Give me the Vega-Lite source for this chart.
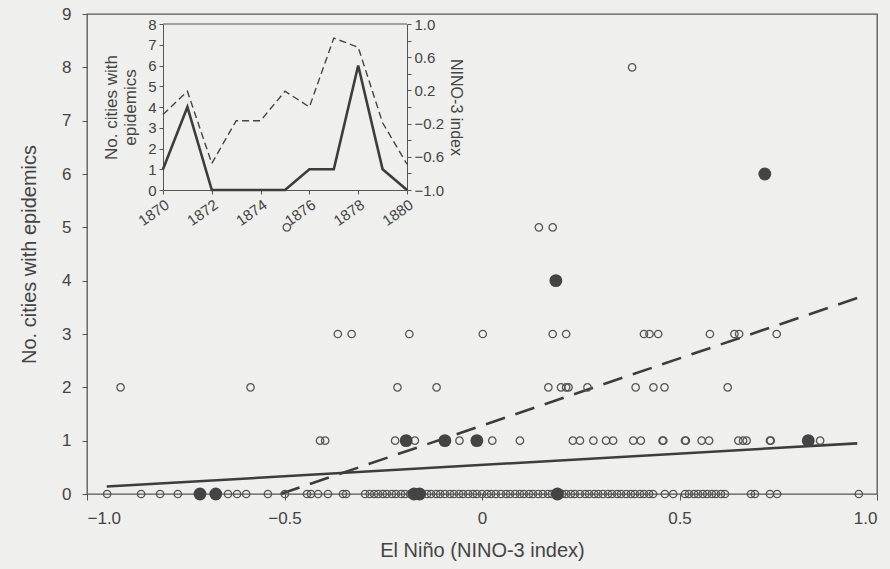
{
  "$schema": "https://vega.github.io/schema/vega-lite/v6.json",
  "width": 790,
  "height": 480,
  "autosize": {"type": "none"},
  "padding": {"left": 87, "top": 14, "right": 13, "bottom": 75},
  "background": "#efefed",
  "config": {
    "font": "Liberation Sans",
    "view": {"stroke": "#555", "strokeWidth": 1.3},
    "axis": {"domainColor": "#555", "tickColor": "#555", "labelColor": "#444", "titleColor": "#444", "grid": false, "titleFontWeight": "normal"}
  },
  "datasets": {
    "pts": [
      {"x": -0.949, "n": 0, "t": "o"}, {"x": -0.863, "n": 0, "t": "o"}, {"x": -0.815, "n": 0, "t": "o"}, {"x": -0.770, "n": 0, "t": "o"},
      {"x": -0.643, "n": 0, "t": "o"}, {"x": -0.620, "n": 0, "t": "o"}, {"x": -0.597, "n": 0, "t": "o"}, {"x": -0.542, "n": 0, "t": "o"},
      {"x": -0.499, "n": 0, "t": "o"}, {"x": -0.443, "n": 0, "t": "o"}, {"x": -0.433, "n": 0, "t": "o"}, {"x": -0.415, "n": 0, "t": "o"},
      {"x": -0.390, "n": 0, "t": "o"}, {"x": -0.352, "n": 0, "t": "o"}, {"x": -0.344, "n": 0, "t": "o"},
      {"x": -0.296, "n": 0, "t": "o"}, {"x": -0.284, "n": 0, "t": "o"}, {"x": -0.273, "n": 0, "t": "o"}, {"x": -0.263, "n": 0, "t": "o"},
      {"x": -0.251, "n": 0, "t": "o"}, {"x": -0.241, "n": 0, "t": "o"}, {"x": -0.228, "n": 0, "t": "o"}, {"x": -0.218, "n": 0, "t": "o"},
      {"x": -0.205, "n": 0, "t": "o"}, {"x": -0.195, "n": 0, "t": "o"}, {"x": -0.182, "n": 0, "t": "o"}, {"x": -0.152, "n": 0, "t": "o"},
      {"x": -0.139, "n": 0, "t": "o"}, {"x": -0.129, "n": 0, "t": "o"}, {"x": -0.116, "n": 0, "t": "o"}, {"x": -0.106, "n": 0, "t": "o"},
      {"x": -0.094, "n": 0, "t": "o"}, {"x": -0.081, "n": 0, "t": "o"}, {"x": -0.071, "n": 0, "t": "o"}, {"x": -0.058, "n": 0, "t": "o"},
      {"x": -0.048, "n": 0, "t": "o"}, {"x": -0.035, "n": 0, "t": "o"}, {"x": -0.023, "n": 0, "t": "o"}, {"x": -0.013, "n": 0, "t": "o"},
      {"x": 0.0, "n": 0, "t": "o"}, {"x": 0.013, "n": 0, "t": "o"}, {"x": 0.023, "n": 0, "t": "o"}, {"x": 0.035, "n": 0, "t": "o"},
      {"x": 0.048, "n": 0, "t": "o"}, {"x": 0.061, "n": 0, "t": "o"}, {"x": 0.071, "n": 0, "t": "o"}, {"x": 0.084, "n": 0, "t": "o"},
      {"x": 0.096, "n": 0, "t": "o"}, {"x": 0.106, "n": 0, "t": "o"}, {"x": 0.119, "n": 0, "t": "o"}, {"x": 0.129, "n": 0, "t": "o"},
      {"x": 0.142, "n": 0, "t": "o"}, {"x": 0.154, "n": 0, "t": "o"}, {"x": 0.167, "n": 0, "t": "o"}, {"x": 0.177, "n": 0, "t": "o"},
      {"x": 0.203, "n": 0, "t": "o"}, {"x": 0.213, "n": 0, "t": "o"}, {"x": 0.225, "n": 0, "t": "o"}, {"x": 0.235, "n": 0, "t": "o"},
      {"x": 0.248, "n": 0, "t": "o"}, {"x": 0.261, "n": 0, "t": "o"}, {"x": 0.271, "n": 0, "t": "o"}, {"x": 0.284, "n": 0, "t": "o"},
      {"x": 0.294, "n": 0, "t": "o"}, {"x": 0.306, "n": 0, "t": "o"}, {"x": 0.319, "n": 0, "t": "o"}, {"x": 0.329, "n": 0, "t": "o"},
      {"x": 0.342, "n": 0, "t": "o"}, {"x": 0.352, "n": 0, "t": "o"}, {"x": 0.365, "n": 0, "t": "o"}, {"x": 0.377, "n": 0, "t": "o"},
      {"x": 0.387, "n": 0, "t": "o"}, {"x": 0.400, "n": 0, "t": "o"}, {"x": 0.410, "n": 0, "t": "o"}, {"x": 0.423, "n": 0, "t": "o"},
      {"x": 0.433, "n": 0, "t": "o"}, {"x": 0.463, "n": 0, "t": "o"}, {"x": 0.484, "n": 0, "t": "o"}, {"x": 0.514, "n": 0, "t": "o"},
      {"x": 0.524, "n": 0, "t": "o"}, {"x": 0.537, "n": 0, "t": "o"}, {"x": 0.547, "n": 0, "t": "o"}, {"x": 0.559, "n": 0, "t": "o"},
      {"x": 0.570, "n": 0, "t": "o"}, {"x": 0.582, "n": 0, "t": "o"}, {"x": 0.592, "n": 0, "t": "o"}, {"x": 0.605, "n": 0, "t": "o"},
      {"x": 0.615, "n": 0, "t": "o"}, {"x": 0.681, "n": 0, "t": "o"}, {"x": 0.691, "n": 0, "t": "o"}, {"x": 0.729, "n": 0, "t": "o"},
      {"x": 0.747, "n": 0, "t": "o"}, {"x": 0.954, "n": 0, "t": "o"},
      {"x": -0.410, "n": 1, "t": "o"}, {"x": -0.397, "n": 1, "t": "o"}, {"x": -0.220, "n": 1, "t": "o"}, {"x": -0.170, "n": 1, "t": "o"},
      {"x": -0.057, "n": 1, "t": "o"}, {"x": 0.026, "n": 1, "t": "o"}, {"x": 0.096, "n": 1, "t": "o"}, {"x": 0.230, "n": 1, "t": "o"},
      {"x": 0.248, "n": 1, "t": "o"}, {"x": 0.282, "n": 1, "t": "o"}, {"x": 0.314, "n": 1, "t": "o"}, {"x": 0.332, "n": 1, "t": "o"},
      {"x": 0.383, "n": 1, "t": "o"}, {"x": 0.402, "n": 1, "t": "o"}, {"x": 0.457, "n": 1, "t": "o"}, {"x": 0.459, "n": 1, "t": "o"},
      {"x": 0.514, "n": 1, "t": "o"}, {"x": 0.516, "n": 1, "t": "o"}, {"x": 0.556, "n": 1, "t": "o"}, {"x": 0.575, "n": 1, "t": "o"},
      {"x": 0.649, "n": 1, "t": "o"}, {"x": 0.661, "n": 1, "t": "o"}, {"x": 0.670, "n": 1, "t": "o"}, {"x": 0.729, "n": 1, "t": "o"},
      {"x": 0.731, "n": 1, "t": "o"}, {"x": 0.856, "n": 1, "t": "o"},
      {"x": -0.915, "n": 2, "t": "o"}, {"x": -0.586, "n": 2, "t": "o"}, {"x": -0.214, "n": 2, "t": "o"}, {"x": -0.115, "n": 2, "t": "o"},
      {"x": 0.168, "n": 2, "t": "o"}, {"x": 0.200, "n": 2, "t": "o"}, {"x": 0.213, "n": 2, "t": "o"}, {"x": 0.219, "n": 2, "t": "o"},
      {"x": 0.267, "n": 2, "t": "o"}, {"x": 0.389, "n": 2, "t": "o"}, {"x": 0.434, "n": 2, "t": "o"}, {"x": 0.462, "n": 2, "t": "o"},
      {"x": 0.622, "n": 2, "t": "o"},
      {"x": -0.365, "n": 3, "t": "o"}, {"x": -0.330, "n": 3, "t": "o"}, {"x": -0.184, "n": 3, "t": "o"}, {"x": 0.002, "n": 3, "t": "o"},
      {"x": 0.179, "n": 3, "t": "o"}, {"x": 0.213, "n": 3, "t": "o"}, {"x": 0.410, "n": 3, "t": "o"}, {"x": 0.424, "n": 3, "t": "o"},
      {"x": 0.446, "n": 3, "t": "o"}, {"x": 0.577, "n": 3, "t": "o"}, {"x": 0.639, "n": 3, "t": "o"}, {"x": 0.651, "n": 3, "t": "o"},
      {"x": 0.746, "n": 3, "t": "o"},
      {"x": -0.494, "n": 5, "t": "o"}, {"x": 0.144, "n": 5, "t": "o"}, {"x": 0.179, "n": 5, "t": "o"},
      {"x": 0.380, "n": 8, "t": "o"},
      {"x": -0.714, "n": 0, "t": "f"}, {"x": -0.674, "n": 0, "t": "f"}, {"x": -0.172, "n": 0, "t": "f"}, {"x": -0.158, "n": 0, "t": "f"},
      {"x": 0.191, "n": 0, "t": "f"}, {"x": -0.192, "n": 1, "t": "f"}, {"x": -0.094, "n": 1, "t": "f"}, {"x": -0.013, "n": 1, "t": "f"},
      {"x": 0.826, "n": 1, "t": "f"}, {"x": 0.187, "n": 4, "t": "f"}, {"x": 0.716, "n": 6, "t": "f"}
    ],
    "inset": [
      {"year": 1870, "cities": 1, "nino": -0.09},
      {"year": 1871, "cities": 4, "nino": 0.19},
      {"year": 1872, "cities": 0, "nino": -0.68},
      {"year": 1873, "cities": 0, "nino": -0.165},
      {"year": 1874, "cities": 0, "nino": -0.165},
      {"year": 1875, "cities": 0, "nino": 0.19},
      {"year": 1876, "cities": 1, "nino": 0.0},
      {"year": 1877, "cities": 1, "nino": 0.83},
      {"year": 1878, "cities": 6, "nino": 0.72},
      {"year": 1879, "cities": 1, "nino": -0.19},
      {"year": 1880, "cities": 0, "nino": -0.69}
    ],
    "fitSolid": [{"x": -0.95, "n": 0.14}, {"x": 0.95, "n": 0.95}],
    "fitDashed": [{"x": -0.51, "n": 0.0}, {"x": 0.952, "n": 3.68}]
  },
  "layer": [
    {
      "layer": [
        {
          "data": {"name": "fitSolid"},
          "mark": {"type": "line", "color": "#3d3d3d", "strokeWidth": 2.6},
          "encoding": {
            "x": {"field": "x", "type": "quantitative"},
            "y": {"field": "n", "type": "quantitative"}
          }
        },
        {
          "data": {"name": "fitDashed"},
          "mark": {"type": "line", "color": "#3d3d3d", "strokeWidth": 2.6, "strokeDash": [20, 11]},
          "encoding": {
            "x": {"field": "x", "type": "quantitative"},
            "y": {"field": "n", "type": "quantitative"}
          }
        },
        {
          "data": {"name": "pts"},
          "transform": [{"filter": "datum.t == 'o'"}],
          "mark": {"type": "point", "shape": "circle", "filled": false, "stroke": "#555", "strokeWidth": 1.3, "size": 55, "opacity": 1},
          "encoding": {
            "x": {"field": "x", "type": "quantitative"},
            "y": {"field": "n", "type": "quantitative"}
          }
        },
        {
          "data": {"name": "pts"},
          "transform": [{"filter": "datum.t == 'f'"}],
          "mark": {"type": "point", "shape": "circle", "filled": true, "fill": "#444", "size": 165, "opacity": 1},
          "encoding": {
            "x": {
              "field": "x", "type": "quantitative",
              "scale": {"domain": [-1, 1], "nice": false},
              "axis": {"title": "El Niño (NINO-3 index)", "values": [-1, -0.5, 0, 0.5, 1], "labelExpr": "datum.value == 0 ? '0' : format(datum.value, '.1f')", "labelFontSize": 17, "titleFontSize": 20, "tickSize": 6, "labelPadding": 10, "titlePadding": 14, "domain": false}
            },
            "y": {
              "field": "n", "type": "quantitative",
              "scale": {"domain": [0, 9], "nice": false},
              "axis": {"title": "No. cities with epidemics", "values": [0, 1, 2, 3, 4, 5, 6, 7, 8, 9], "format": "d", "labelFontSize": 17, "titleFontSize": 20, "tickSize": 5, "labelPadding": 11, "titlePadding": 22, "domain": false}
            }
          }
        }
      ]
    },
    {
      "layer": [
        {
          "data": {"name": "inset"},
          "mark": {"type": "line", "color": "#3d3d3d", "strokeWidth": 2.6},
          "encoding": {
            "x": {
              "field": "year", "type": "quantitative",
              "scale": {"domain": [1870, 1880], "range": [76, 320], "nice": false, "zero": false},
              "axis": {"title": null, "values": [1870, 1872, 1874, 1876, 1878, 1880], "format": "d", "orient": "bottom", "offset": -304, "labelAngle": -35, "labelFontSize": 15, "tickSize": 4, "labelPadding": 3}
            },
            "y": {
              "field": "cities", "type": "quantitative",
              "scale": {"domain": [0, 8], "range": [176, 10], "nice": false},
              "axis": {"title": ["No. cities with", "epidemics"], "orient": "left", "offset": -76, "values": [0, 1, 2, 3, 4, 5, 6, 7, 8], "format": "d", "labelFontSize": 15, "titleFontSize": 17, "tickSize": 4, "labelPadding": 3, "titlePadding": 8}
            }
          }
        },
        {
          "data": {"values": [{}]},
          "mark": {"type": "rule", "color": "#555", "strokeWidth": 1},
          "encoding": {
            "x": {"datum": 1870, "type": "quantitative"},
            "x2": {"datum": 1880},
            "y": {"datum": 8, "type": "quantitative"}
          }
        }
      ]
    },
    {
      "data": {"name": "inset"},
      "mark": {"type": "line", "color": "#444", "strokeWidth": 1.4, "strokeDash": [7, 4]},
      "encoding": {
        "x": {
          "field": "year", "type": "quantitative",
          "scale": {"domain": [1870, 1880], "range": [76, 320], "nice": false, "zero": false},
          "axis": null
        },
        "y": {
          "field": "nino", "type": "quantitative",
          "scale": {"domain": [-1, 1], "range": [176, 10], "nice": false},
          "axis": {"title": "NINO-3 index", "orient": "right", "offset": -470, "values": [-1, -0.8, -0.6, -0.4, -0.2, 0, 0.2, 0.4, 0.6, 0.8, 1], "labelExpr": "(abs(datum.value * 10) % 4 == 2) ? format(datum.value, '.1f') : (abs(datum.value) == 1 ? format(datum.value, '.1f') : '')", "labelFontSize": 15, "titleFontSize": 16, "tickSize": 4, "labelPadding": 3, "titlePadding": 4}
        }
      }
    }
  ],
  "resolve": {"scale": {"x": "independent", "y": "independent"}, "axis": {"x": "independent", "y": "independent"}}
}
